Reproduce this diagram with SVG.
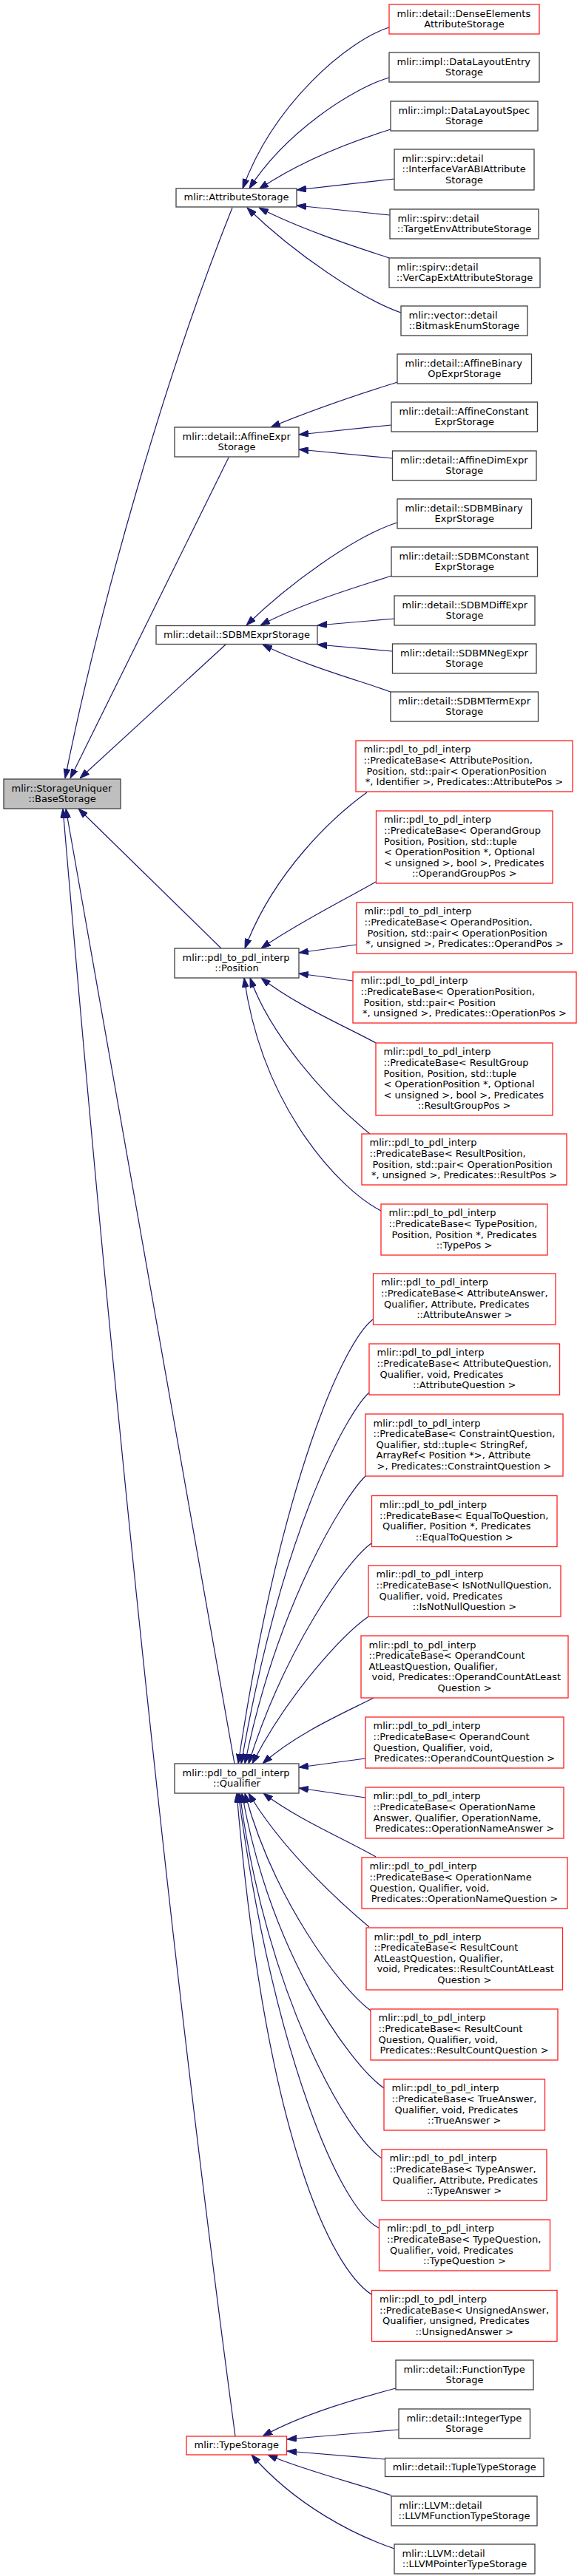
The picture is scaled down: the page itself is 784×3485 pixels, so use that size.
<svg xmlns="http://www.w3.org/2000/svg" width="784" height="3485" viewBox="0 0 784 3485">
<style>
.n rect{fill:#fff;stroke:#404040;stroke-width:1.3}
.n.r rect{stroke:#ff2020}
.n.g rect{fill:#bfbfbf}
text{font-family:"DejaVu Sans","Liberation Sans",sans-serif;font-size:13px;fill:#000}
.c{text-anchor:middle}
#edges path{fill:none;stroke:#191970;stroke-width:1.2;marker-end:url(#a)}
</style>
<defs>
<marker id="a" viewBox="0 0 13 9" refX="13" refY="4.5" markerWidth="13" markerHeight="9" markerUnits="userSpaceOnUse" orient="auto">
<path d="M0,0 L13,4.5 L0,9 z" fill="#191970" stroke="#191970" stroke-width="1"/>
</marker>
</defs>
<rect x="0" y="0" width="784" height="3485" fill="#fff"/>
<g id="edges">
<path d="M314,281 C222,511 134,823 88,1053"/>
<path d="M309,619 L95,1053"/>
<path d="M305,872 L108,1053"/>
<path d="M299,1283 L106,1094"/>
<path d="M317,2386 L89,1094"/>
<path d="M318,3296 C224,2596 144.5,1794 85,1094"/>
<path d="M526,37 C470,55 370,140 328,255"/>
<path d="M526,105 C475,120 385,180 337,255"/>
<path d="M528,175 C480,190 410,215 350,256"/>
<path d="M533,242 L401,257"/>
<path d="M527,291 L401,278"/>
<path d="M526,349 C490,337 410,312 350,281"/>
<path d="M542,423 C490,405 400,345 334,281"/>
<path d="M537,517 C500,529 440,547 366,578"/>
<path d="M529,575 L404,588"/>
<path d="M530,620 L404,608"/>
<path d="M537,707 C480,725 390,790 333,846"/>
<path d="M529,779 C490,792 410,815 352,846"/>
<path d="M533,837 L429,846"/>
<path d="M530,881 L429,872"/>
<path d="M528,936 C490,922 410,900 355,872"/>
<path d="M496,1072 C450,1105 370,1180 331,1283"/>
<path d="M508,1193 C470,1215 400,1250 353,1283"/>
<path d="M482,1278 L404,1289"/>
<path d="M477,1327 L404,1317"/>
<path d="M508,1411 C470,1390 400,1360 353,1323"/>
<path d="M500,1534 C440,1485 365,1400 338,1323"/>
<path d="M515,1638 C460,1610 355,1500 330,1323"/>
<path d="M504,1785 C465,1815 380,2000 322,2386"/>
<path d="M499,1884 C475,1905 385,2050 326,2386"/>
<path d="M494,1997 C465,2025 375,2170 331,2386"/>
<path d="M502,2088 C470,2110 385,2230 336,2386"/>
<path d="M498,2187 C465,2210 390,2290 341,2386"/>
<path d="M505,2297 C470,2315 400,2345 355,2386"/>
<path d="M494,2379 L404,2391"/>
<path d="M494,2432 L404,2419"/>
<path d="M508,2512 C470,2490 400,2460 356,2426"/>
<path d="M499,2607 C455,2570 380,2500 336,2426"/>
<path d="M501,2720 C460,2690 370,2570 331,2426"/>
<path d="M519,2825 C470,2790 365,2640 327,2426"/>
<path d="M516,2920 C470,2890 360,2700 324,2426"/>
<path d="M512,3014 C460,2990 370,2780 322,2426"/>
<path d="M502,3104 C450,3070 360,2900 320,2426"/>
<path d="M535,3231 C490,3243 410,3265 355,3296"/>
<path d="M539,3287 L388,3300"/>
<path d="M520,3327 L388,3316"/>
<path d="M529,3376 C490,3362 410,3342 362,3321"/>
<path d="M533,3448 C480,3430 400,3390 340,3321"/>
</g>

<g id="root" class="n g"><rect x="5" y="1054" width="158" height="40"/>
<text x="15.5" y="1070.5">mlir::StorageUniquer</text><text class="c" x="84" y="1085.1">::BaseStorage</text></g>

<g id="attributeStorage" class="n"><rect x="238" y="255" width="163" height="25"/>
<text class="c" x="319.5" y="271.3">mlir::AttributeStorage</text></g>

<g id="denseElements" class="n r"><rect x="526" y="6" width="203" height="40"/>
<text x="536.5" y="22.5">mlir::detail::DenseElements</text><text class="c" x="627.5" y="37.1">AttributeStorage</text></g>

<g id="dataLayoutEntry" class="n"><rect x="526" y="71" width="203" height="40"/>
<text x="536.5" y="87.5">mlir::impl::DataLayoutEntry</text><text class="c" x="627.5" y="102.1">Storage</text></g>

<g id="dataLayoutSpec" class="n"><rect x="528" y="137" width="199" height="40"/>
<text x="538.5" y="153.5">mlir::impl::DataLayoutSpec</text><text class="c" x="627.5" y="168.1">Storage</text></g>

<g id="interfaceVarABI" class="n"><rect x="533" y="202" width="189" height="55"/>
<text x="543.5" y="218.7">mlir::spirv::detail</text><text x="543.5" y="233.3">::InterfaceVarABIAttribute</text><text class="c" x="627.5" y="247.9">Storage</text></g>

<g id="targetEnv" class="n"><rect x="527" y="283" width="201" height="40"/>
<text x="537.5" y="299.5">mlir::spirv::detail</text><text class="c" x="627.5" y="314.1">::TargetEnvAttributeStorage</text></g>

<g id="verCapExt" class="n"><rect x="526" y="349" width="204" height="40"/>
<text x="536.5" y="365.5">mlir::spirv::detail</text><text class="c" x="628" y="380.1">::VerCapExtAttributeStorage</text></g>

<g id="bitmaskEnum" class="n"><rect x="542" y="414" width="171" height="40"/>
<text x="552.5" y="430.5">mlir::vector::detail</text><text class="c" x="627.5" y="445.1">::BitmaskEnumStorage</text></g>

<g id="affineExpr" class="n"><rect x="236" y="578" width="168" height="40"/>
<text x="246.5" y="594.5">mlir::detail::AffineExpr</text><text class="c" x="320" y="609.1">Storage</text></g>

<g id="affineBinary" class="n"><rect x="537" y="479" width="181.5" height="40"/>
<text x="547.5" y="495.5">mlir::detail::AffineBinary</text><text class="c" x="627.75" y="510.1">OpExprStorage</text></g>

<g id="affineConstant" class="n"><rect x="529" y="544" width="197.5" height="40"/>
<text x="539.5" y="560.5">mlir::detail::AffineConstant</text><text class="c" x="627.75" y="575.1">ExprStorage</text></g>

<g id="affineDim" class="n"><rect x="530.5" y="610" width="194.5" height="40"/>
<text x="541" y="626.5">mlir::detail::AffineDimExpr</text><text class="c" x="627.75" y="641.1">Storage</text></g>

<g id="sdbmExpr" class="n"><rect x="211" y="846.5" width="218" height="25"/>
<text class="c" x="320" y="862.8">mlir::detail::SDBMExprStorage</text></g>

<g id="sdbmBinary" class="n"><rect x="537" y="675" width="181.5" height="40"/>
<text x="547.5" y="691.5">mlir::detail::SDBMBinary</text><text class="c" x="627.75" y="706.1">ExprStorage</text></g>

<g id="sdbmConstant" class="n"><rect x="529" y="740" width="197.5" height="40"/>
<text x="539.5" y="756.5">mlir::detail::SDBMConstant</text><text class="c" x="627.75" y="771.1">ExprStorage</text></g>

<g id="sdbmDiff" class="n"><rect x="533" y="806" width="190" height="40"/>
<text x="543.5" y="822.5">mlir::detail::SDBMDiffExpr</text><text class="c" x="628" y="837.1">Storage</text></g>

<g id="sdbmNeg" class="n"><rect x="530.5" y="871" width="194.5" height="40"/>
<text x="541" y="887.5">mlir::detail::SDBMNegExpr</text><text class="c" x="627.75" y="902.1">Storage</text></g>

<g id="sdbmTerm" class="n"><rect x="528" y="936" width="199.5" height="40"/>
<text x="538.5" y="952.5">mlir::detail::SDBMTermExpr</text><text class="c" x="627.75" y="967.1">Storage</text></g>

<g id="position" class="n"><rect x="236" y="1283" width="168" height="40"/>
<text x="246.5" y="1299.5">mlir::pdl_to_pdl_interp</text><text class="c" x="320" y="1314.1">::Position</text></g>

<g id="attributePos" class="n r"><rect x="481" y="1002" width="293" height="69"/>
<text x="491.5" y="1018.4">mlir::pdl_to_pdl_interp</text><text x="491.5" y="1033">::PredicateBase&lt; AttributePosition,</text><text x="495.5" y="1047.6">Position, std::pair&lt; OperationPosition</text><text class="c" x="627.5" y="1062.2">*, Identifier &gt;, Predicates::AttributePos &gt;</text></g>

<g id="operandGroupPos" class="n r"><rect x="508.5" y="1097" width="238.5" height="98"/>
<text x="519" y="1113.3">mlir::pdl_to_pdl_interp</text><text x="519" y="1127.9">::PredicateBase&lt; OperandGroup</text><text x="519" y="1142.5">Position, Position, std::tuple</text><text x="519" y="1157.1">&lt; OperationPosition *, Optional</text><text x="519" y="1171.7">&lt; unsigned &gt;, bool &gt;, Predicates</text><text class="c" x="627.75" y="1186.3">::OperandGroupPos &gt;</text></g>

<g id="operandPos" class="n r"><rect x="482" y="1221" width="292" height="69"/>
<text x="492.5" y="1237.4">mlir::pdl_to_pdl_interp</text><text x="492.5" y="1252">::PredicateBase&lt; OperandPosition,</text><text x="496.5" y="1266.6">Position, std::pair&lt; OperationPosition</text><text class="c" x="628" y="1281.2">*, unsigned &gt;, Predicates::OperandPos &gt;</text></g>

<g id="operationPos" class="n r"><rect x="477" y="1315" width="302" height="69"/>
<text x="487.5" y="1331.4">mlir::pdl_to_pdl_interp</text><text x="487.5" y="1346">::PredicateBase&lt; OperationPosition,</text><text x="491.5" y="1360.6">Position, std::pair&lt; Position</text><text class="c" x="628" y="1375.2">*, unsigned &gt;, Predicates::OperationPos &gt;</text></g>

<g id="resultGroupPos" class="n r"><rect x="508" y="1411" width="239" height="98"/>
<text x="518.5" y="1427.3">mlir::pdl_to_pdl_interp</text><text x="518.5" y="1441.9">::PredicateBase&lt; ResultGroup</text><text x="518.5" y="1456.5">Position, Position, std::tuple</text><text x="518.5" y="1471.1">&lt; OperationPosition *, Optional</text><text x="518.5" y="1485.7">&lt; unsigned &gt;, bool &gt;, Predicates</text><text class="c" x="627.5" y="1500.3">::ResultGroupPos &gt;</text></g>

<g id="resultPos" class="n r"><rect x="489" y="1534" width="277" height="69"/>
<text x="499.5" y="1550.4">mlir::pdl_to_pdl_interp</text><text x="499.5" y="1565">::PredicateBase&lt; ResultPosition,</text><text x="503.5" y="1579.6">Position, std::pair&lt; OperationPosition</text><text class="c" x="627.5" y="1594.2">*, unsigned &gt;, Predicates::ResultPos &gt;</text></g>

<g id="typePos" class="n r"><rect x="515" y="1629" width="225" height="69"/>
<text x="525.5" y="1645.4">mlir::pdl_to_pdl_interp</text><text x="525.5" y="1660">::PredicateBase&lt; TypePosition,</text><text x="529.5" y="1674.6">Position, Position *, Predicates</text><text class="c" x="627.5" y="1689.2">::TypePos &gt;</text></g>

<g id="qualifier" class="n"><rect x="236" y="2386" width="168" height="40"/>
<text x="246.5" y="2402.5">mlir::pdl_to_pdl_interp</text><text class="c" x="320" y="2417.1">::Qualifier</text></g>

<g id="attributeAnswer" class="n r"><rect x="504.5" y="1723" width="246.5" height="69"/>
<text x="515" y="1739.4">mlir::pdl_to_pdl_interp</text><text x="515" y="1754">::PredicateBase&lt; AttributeAnswer,</text><text x="519" y="1768.6">Qualifier, Attribute, Predicates</text><text class="c" x="627.75" y="1783.2">::AttributeAnswer &gt;</text></g>

<g id="attributeQuestion" class="n r"><rect x="499" y="1818" width="257.5" height="69"/>
<text x="509.5" y="1834.4">mlir::pdl_to_pdl_interp</text><text x="509.5" y="1849">::PredicateBase&lt; AttributeQuestion,</text><text x="513.5" y="1863.6">Qualifier, void, Predicates</text><text class="c" x="627.75" y="1878.2">::AttributeQuestion &gt;</text></g>

<g id="constraintQuestion" class="n r"><rect x="494" y="1913" width="267" height="84"/>
<text x="504.5" y="1929.6">mlir::pdl_to_pdl_interp</text><text x="504.5" y="1944.2">::PredicateBase&lt; ConstraintQuestion,</text><text x="508.5" y="1958.8">Qualifier, std::tuple&lt; StringRef,</text><text x="508.5" y="1973.4">ArrayRef&lt; Position *&gt;, Attribute</text><text class="c" x="627.5" y="1988">&gt;, Predicates::ConstraintQuestion &gt;</text></g>

<g id="equalToQuestion" class="n r"><rect x="502.5" y="2023.5" width="250.5" height="69"/>
<text x="513" y="2039.9">mlir::pdl_to_pdl_interp</text><text x="513" y="2054.5">::PredicateBase&lt; EqualToQuestion,</text><text x="517" y="2069.1">Qualifier, Position *, Predicates</text><text class="c" x="627.75" y="2083.7">::EqualToQuestion &gt;</text></g>

<g id="isNotNullQuestion" class="n r"><rect x="498" y="2118" width="260" height="69"/>
<text x="508.5" y="2134.4">mlir::pdl_to_pdl_interp</text><text x="508.5" y="2149">::PredicateBase&lt; IsNotNullQuestion,</text><text x="512.5" y="2163.6">Qualifier, void, Predicates</text><text class="c" x="628" y="2178.2">::IsNotNullQuestion &gt;</text></g>

<g id="operandCountAtLeast" class="n r"><rect x="488" y="2213" width="280" height="84"/>
<text x="498.5" y="2229.6">mlir::pdl_to_pdl_interp</text><text x="498.5" y="2244.2">::PredicateBase&lt; OperandCount</text><text x="498.5" y="2258.8">AtLeastQuestion, Qualifier,</text><text x="502.5" y="2273.4">void, Predicates::OperandCountAtLeast</text><text class="c" x="628" y="2288">Question &gt;</text></g>

<g id="operandCountQuestion" class="n r"><rect x="494" y="2323" width="268" height="69"/>
<text x="504.5" y="2339.4">mlir::pdl_to_pdl_interp</text><text x="504.5" y="2354">::PredicateBase&lt; OperandCount</text><text x="504.5" y="2368.6">Question, Qualifier, void,</text><text class="c" x="628" y="2383.2">Predicates::OperandCountQuestion &gt;</text></g>

<g id="operationNameAnswer" class="n r"><rect x="494" y="2418" width="268" height="69"/>
<text x="504.5" y="2434.4">mlir::pdl_to_pdl_interp</text><text x="504.5" y="2449">::PredicateBase&lt; OperationName</text><text x="504.5" y="2463.6">Answer, Qualifier, OperationName,</text><text class="c" x="628" y="2478.2">Predicates::OperationNameAnswer &gt;</text></g>

<g id="operationNameQuestion" class="n r"><rect x="489" y="2513" width="278" height="69"/>
<text x="499.5" y="2529.4">mlir::pdl_to_pdl_interp</text><text x="499.5" y="2544">::PredicateBase&lt; OperationName</text><text x="499.5" y="2558.6">Question, Qualifier, void,</text><text class="c" x="628" y="2573.2">Predicates::OperationNameQuestion &gt;</text></g>

<g id="resultCountAtLeast" class="n r"><rect x="495" y="2608" width="265.5" height="84"/>
<text x="505.5" y="2624.6">mlir::pdl_to_pdl_interp</text><text x="505.5" y="2639.2">::PredicateBase&lt; ResultCount</text><text x="505.5" y="2653.8">AtLeastQuestion, Qualifier,</text><text x="509.5" y="2668.4">void, Predicates::ResultCountAtLeast</text><text class="c" x="627.75" y="2683">Question &gt;</text></g>

<g id="resultCountQuestion" class="n r"><rect x="501" y="2718" width="253" height="69"/>
<text x="511.5" y="2734.4">mlir::pdl_to_pdl_interp</text><text x="511.5" y="2749">::PredicateBase&lt; ResultCount</text><text x="511.5" y="2763.6">Question, Qualifier, void,</text><text class="c" x="627.5" y="2778.2">Predicates::ResultCountQuestion &gt;</text></g>

<g id="trueAnswer" class="n r"><rect x="519" y="2813" width="217.5" height="69"/>
<text x="529.5" y="2829.4">mlir::pdl_to_pdl_interp</text><text x="529.5" y="2844">::PredicateBase&lt; TrueAnswer,</text><text x="533.5" y="2858.6">Qualifier, void, Predicates</text><text class="c" x="627.75" y="2873.2">::TrueAnswer &gt;</text></g>

<g id="typeAnswer" class="n r"><rect x="516" y="2908" width="223" height="69"/>
<text x="526.5" y="2924.4">mlir::pdl_to_pdl_interp</text><text x="526.5" y="2939">::PredicateBase&lt; TypeAnswer,</text><text x="530.5" y="2953.6">Qualifier, Attribute, Predicates</text><text class="c" x="627.5" y="2968.2">::TypeAnswer &gt;</text></g>

<g id="typeQuestion" class="n r"><rect x="512.5" y="3003" width="231" height="69"/>
<text x="523" y="3019.4">mlir::pdl_to_pdl_interp</text><text x="523" y="3034">::PredicateBase&lt; TypeQuestion,</text><text x="527" y="3048.6">Qualifier, void, Predicates</text><text class="c" x="628" y="3063.2">::TypeQuestion &gt;</text></g>

<g id="unsignedAnswer" class="n r"><rect x="502.5" y="3098.5" width="250.5" height="69"/>
<text x="513" y="3114.9">mlir::pdl_to_pdl_interp</text><text x="513" y="3129.5">::PredicateBase&lt; UnsignedAnswer,</text><text x="517" y="3144.1">Qualifier, unsigned, Predicates</text><text class="c" x="627.75" y="3158.7">::UnsignedAnswer &gt;</text></g>

<g id="typeStorage" class="n r"><rect x="252" y="3296" width="135.5" height="25"/>
<text class="c" x="319.75" y="3312.3">mlir::TypeStorage</text></g>

<g id="functionType" class="n"><rect x="535" y="3193" width="186" height="40"/>
<text x="545.5" y="3209.5">mlir::detail::FunctionType</text><text class="c" x="628" y="3224.1">Storage</text></g>

<g id="integerType" class="n"><rect x="539" y="3259" width="177.5" height="40"/>
<text x="549.5" y="3275.5">mlir::detail::IntegerType</text><text class="c" x="627.75" y="3290.1">Storage</text></g>

<g id="tupleType" class="n"><rect x="520.5" y="3325.5" width="214.5" height="25"/>
<text class="c" x="627.75" y="3341.8">mlir::detail::TupleTypeStorage</text></g>

<g id="llvmFunctionType" class="n"><rect x="529" y="3377" width="197" height="40"/>
<text x="539.5" y="3393.5">mlir::LLVM::detail</text><text class="c" x="627.5" y="3408.1">::LLVMFunctionTypeStorage</text></g>

<g id="llvmPointerType" class="n"><rect x="533" y="3442" width="190" height="40"/>
<text x="543.5" y="3458.5">mlir::LLVM::detail</text><text class="c" x="628" y="3473.1">::LLVMPointerTypeStorage</text></g>
</svg>
